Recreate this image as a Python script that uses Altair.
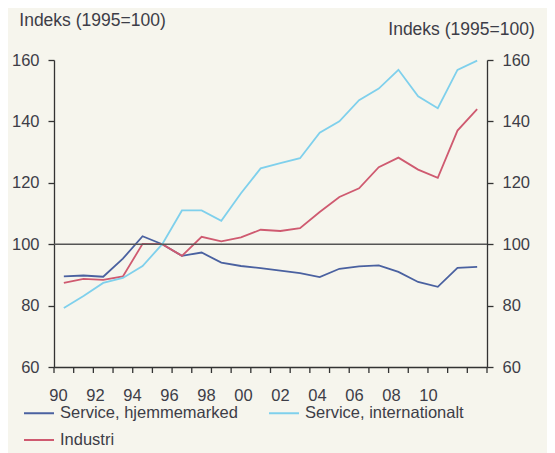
import altair as alt
import pandas as pd

years = list(range(1990, 2012))
hjemmemarked = [89.5, 89.8, 89.4, 95.3, 102.6, 100.0, 96.2, 97.3, 94.0, 92.9, 92.2,
                91.4, 90.6, 89.3, 92.0, 92.8, 93.1, 91.0, 87.7, 86.1, 92.3, 92.6]
internationalt = [79.2, 83.1, 87.4, 89.0, 92.9, 100.0, 111.0, 111.0, 107.6, 116.6, 124.7,
                  126.4, 128.0, 136.3, 140.0, 146.9, 150.7, 156.8, 148.2, 144.3, 156.8, 159.8]
industri = [87.4, 88.7, 88.4, 89.5, 100.1, 100.0, 96.2, 102.4, 100.9, 102.2, 104.7,
            104.3, 105.2, 110.5, 115.4, 118.2, 125.1, 128.2, 124.3, 121.6, 137.0, 144.0]

# legend order (filled column by column): hjemmemarked, Industri | internationalt
series_names = ["Service, hjemmemarked", "Industri", "Service, internationalt"]
series_colors = ["#4a61a0", "#cf5a70", "#7fd0ec"]
series_values = [hjemmemarked, industri, internationalt]
x_labels = ["90", "92", "94", "96", "98", "00", "02", "04", "06", "08", "10"]
y_ticks = [60, 80, 100, 120, 140, 160]
ref_value = [100]
axis_title = "Indeks (1995=100)"

rows = []
for name, vals in zip(series_names, series_values):
    for yr, v in zip(years, vals):
        rows.append({"year": yr, "value": v, "serie": name})
df = pd.DataFrame(rows)

edges = [y - 0.5 for y in years] + [years[-1] + 0.5]
tick_df = pd.DataFrame({"year": edges})
ref_df = pd.DataFrame({"v": ref_value})

# label positions (as in the picture)
L0, LS = 1989.7, 1.88
label_pos = [L0 + LS * k for k in range(len(x_labels))]
label_expr = "[" + ",".join("'%s'" % s for s in x_labels) + "][round((datum.value-%s)/%s)]" % (L0, LS)

TXT = "#3d3d47"
AX = "#333333"
FONT = "Liberation Sans"
FS = 16.5

xscale = alt.Scale(domain=[edges[0], edges[-1]], nice=False, zero=False)
xaxis = alt.Axis(values=label_pos, labelExpr=label_expr, ticks=False, grid=False,
                 domainColor=AX, domainWidth=1.3, labelFontSize=FS, labelColor=TXT,
                 labelFont=FONT, labelPadding=28, labelBaseline="middle", title=None)
yscale = alt.Scale(domain=[60, 160], nice=False, zero=False)

left_axis = alt.Axis(values=y_ticks, tickSize=6, tickColor=AX, tickWidth=1.3,
                     domainColor=AX, domainWidth=1.3, grid=False, labelFontSize=FS,
                     labelColor=TXT, labelFont=FONT, labelPadding=9,
                     title=axis_title, titleAngle=0, titleX=38, titleY=-40,
                     titleAlign="center", titleBaseline="middle", titleFontSize=17.5,
                     titleFontWeight="normal", titleColor=TXT, titleFont=FONT)
right_axis = alt.Axis(orient="right", values=y_ticks, tickSize=6, tickColor=AX, tickWidth=1.3,
                      domainColor=AX, domainWidth=1.3, grid=False, labelFontSize=FS,
                      labelColor=TXT, labelFont=FONT, labelPadding=9,
                      title=axis_title, titleAngle=0, titleX=-26, titleY=-31,
                      titleAlign="center", titleBaseline="middle", titleFontSize=17.5,
                      titleFontWeight="normal", titleColor=TXT, titleFont=FONT)

lines = alt.Chart(df).mark_line(strokeWidth=1.8).encode(
    x=alt.X("year:Q", scale=xscale, axis=xaxis),
    y=alt.Y("value:Q", scale=yscale, axis=left_axis),
    color=alt.Color("serie:N", scale=alt.Scale(domain=series_names, range=series_colors),
                    sort=series_names,
                    legend=alt.Legend(title=None, orient="none", legendX=-31, legendY=337,
                                      columns=2, columnPadding=27, rowPadding=2, padding=0,
                                      symbolType="stroke", symbolSize=900, symbolStrokeWidth=2,
                                      labelFontSize=FS, labelColor=TXT, labelFont=FONT,
                                      labelOffset=5, labelLimit=400)),
    detail="serie:N",
)

ticks = alt.Chart(tick_df).mark_rule(color=AX, strokeWidth=1.3).encode(
    x=alt.X("year:Q", scale=xscale, axis=xaxis),
    y=alt.value(307),
    y2=alt.value(313),
)

ref = alt.Chart(ref_df).mark_rule(color="#555555", strokeWidth=1.5).encode(
    y=alt.Y("v:Q", scale=yscale, axis=right_axis),
)

chart = alt.layer(lines, ticks, ref).resolve_scale(y="independent").properties(
    width=433, height=307,
    padding={"left": 46, "top": 52, "right": 60, "bottom": 86},
    autosize=alt.AutoSizeParams(type="none"),
    background="#f6f5ed",
).configure_view(stroke=None)

chart.save("out.html", embed_options={"renderer": "svg", "actions": False})
